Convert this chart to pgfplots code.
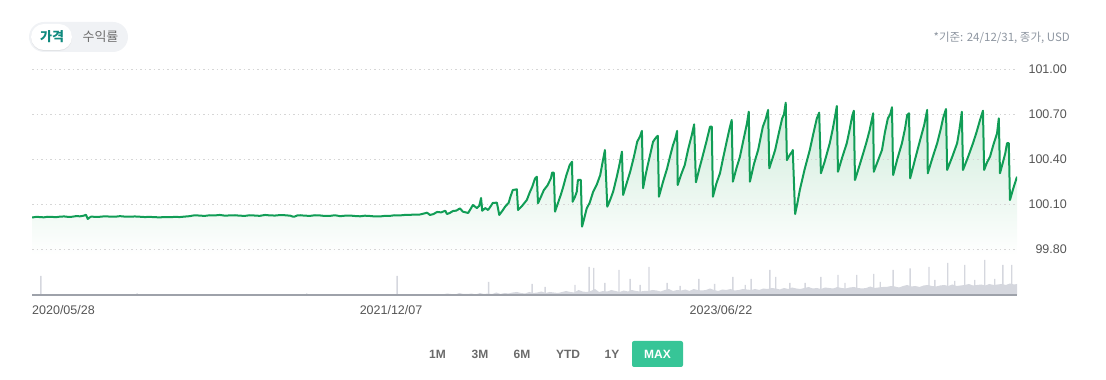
\documentclass[border=0pt]{standalone}
\usepackage{pgfplots}
\usepackage{pgfplotstable}
\pgfplotsset{compat=1.18}
\usepackage{fontspec}
\setmainfont{Liberation Sans}
\newfontfamily\kr{Noto Sans CJK KR}
\usetikzlibrary{shadows}
\definecolor{linegreen}{HTML}{119D56}
\definecolor{fillgreen}{HTML}{CDEBD9}
\definecolor{gridgray}{HTML}{D6D6D6}
\definecolor{ticktext}{HTML}{555555}
\definecolor{volgray}{HTML}{D5D7DE}
\definecolor{basegray}{HTML}{9EA2AA}
\definecolor{notegray}{HTML}{8E96A1}
\definecolor{btntext}{HTML}{6A6A6A}
\definecolor{maxgreen}{HTML}{37C597}
\definecolor{pillbg}{HTML}{F0F2F5}
\definecolor{tabteal}{HTML}{0F8A7E}
\definecolor{pilltext}{HTML}{6E6E6E}

\pgfplotstableread{
day price
0 100.012
7 100.016
14 100.015
20 100.013
27 100.017
34 100.016
41 100.014
48 100.018
55 100.019
62 100.016
68 100.017
75 100.021
82 100.020
88 100.024
92 100.030
95 100.002
98 100.012
101 100.018
108 100.016
116 100.017
124 100.020
133 100.018
141 100.017
150 100.021
158 100.018
167 100.017
175 100.019
184 100.017
192 100.015
201 100.016
210 100.014
218 100.013
226 100.015
235 100.014
243 100.016
252 100.015
260 100.018
269 100.021
274 100.025
279 100.027
287 100.024
295 100.023
303 100.027
312 100.026
320 100.029
329 100.024
337 100.026
346 100.027
354 100.024
363 100.023
371 100.027
380 100.025
388 100.023
397 100.029
405 100.026
414 100.025
422 100.028
431 100.027
440 100.024
445 100.017
448 100.019
452 100.026
457 100.027
465 100.024
474 100.023
482 100.027
490 100.026
499 100.022
508 100.023
516 100.027
525 100.021
533 100.024
542 100.025
550 100.022
559 100.020
567 100.024
576 100.022
584 100.019
593 100.019
601 100.023
610 100.023
618 100.027
627 100.026
635 100.029
644 100.030
652 100.031
661 100.032
665 100.036
673 100.044
678 100.029
684 100.035
690 100.049
697 100.046
704 100.057
707 100.035
712 100.043
717 100.055
723 100.058
729 100.073
734 100.051
743 100.042
747 100.068
751 100.095
758 100.075
762 100.090
765 100.142
767 100.057
772 100.075
777 100.062
781 100.085
785 100.109
792 100.111
796 100.029
801 100.055
806 100.084
812 100.110
815 100.150
819 100.195
826 100.200
828 100.062
835 100.090
843 100.129
848 100.180
852 100.215
857 100.273
860 100.284
862 100.107
867 100.150
872 100.195
878 100.225
884 100.273
886 100.311
889 100.311
891 100.051
897 100.120
901 100.165
905 100.217
910 100.290
916 100.362
920 100.384
921 100.117
925 100.150
928 100.184
930 100.262
935 100.262
937 99.951
941 100.010
945 100.073
950 100.110
956 100.184
962 100.230
968 100.295
972 100.380
976 100.462
980 100.084
985 100.130
990 100.184
996 100.280
1000 100.350
1005 100.451
1007 100.162
1013 100.240
1019 100.317
1025 100.410
1031 100.517
1036 100.555
1039 100.589
1041 100.207
1045 100.290
1049 100.362
1053 100.430
1058 100.517
1062 100.540
1066 100.557
1068 100.151
1075 100.250
1082 100.340
1087 100.420
1092 100.495
1096 100.540
1099 100.589
1100 100.229
1106 100.300
1112 100.362
1118 100.470
1124 100.562
1128 100.633
1131 100.247
1137 100.340
1143 100.429
1149 100.520
1155 100.617
1158 100.617
1160 100.151
1166 100.240
1172 100.307
1178 100.420
1184 100.529
1188 100.600
1192 100.662
1194 100.251
1200 100.340
1206 100.417
1212 100.530
1218 100.640
1221 100.717
1223 100.251
1230 100.370
1237 100.462
1241 100.540
1245 100.617
1250 100.670
1254 100.729
1256 100.340
1261 100.400
1266 100.462
1272 100.570
1278 100.673
1281 100.700
1284 100.777
1286 100.395
1291 100.430
1295 100.451
1296 100.462
1300 100.035
1304 100.110
1308 100.195
1316 100.330
1325 100.462
1331 100.570
1337 100.673
1341 100.711
1344 100.307
1350 100.380
1355 100.450
1359 100.507
1364 100.600
1368 100.684
1371 100.755
1373 100.317
1380 100.410
1388 100.507
1393 100.600
1397 100.684
1400 100.724
1402 100.262
1409 100.350
1416 100.440
1422 100.520
1427 100.595
1433 100.707
1434 100.317
1441 100.390
1448 100.462
1453 100.580
1458 100.673
1462 100.700
1465 100.747
1467 100.295
1474 100.400
1482 100.507
1487 100.600
1491 100.695
1494 100.707
1496 100.273
1505 100.410
1513 100.529
1520 100.630
1525 100.729
1526 100.307
1534 100.410
1542 100.507
1548 100.600
1552 100.673
1557 100.735
1559 100.329
1568 100.420
1576 100.507
1580 100.600
1584 100.717
1586 100.329
1595 100.420
1603 100.507
1609 100.580
1615 100.662
1620 100.724
1622 100.329
1627 100.380
1632 100.417
1638 100.500
1644 100.573
1647 100.673
1649 100.307
1654 100.380
1658 100.440
1661 100.507
1664 100.507
1666 100.129
1672 100.210
1678 100.284
}\pricetable

\pgfplotstableread{
day vol
693 1
700 0.5
707 1.5
714 1
721 0.5
728 2
735 1
742 1
749 1.5
756 0.5
763 2
770 1
777 1.5
784 1
791 2.5
798 1
805 2
812 1.5
819 2.5
826 3
833 2
840 1.5
847 3
854 2
861 2.5
868 3.5
875 2
882 3
889 2.5
896 2
903 3
910 4
917 3
924 2.5
931 5
938 3.5
945 3
952 4
959 6
966 3
973 4
980 3.5
987 5
994 4
1001 3
1008 4.5
1015 3.5
1022 5
1029 4
1036 3.5
1043 4
1050 4
1057 5
1064 4.5
1071 3.5
1078 5
1085 6
1092 4
1099 5
1106 4.5
1113 5.5
1120 4
1127 6
1134 5
1141 4.5
1148 5
1155 6.5
1162 5
1169 4
1176 5.5
1183 5
1190 6
1197 4.5
1204 5
1211 6
1218 5.5
1225 5
1232 6
1239 5
1246 6.5
1253 6
1260 7
1267 6.5
1274 5.5
1281 7
1288 6
1295 7.5
1302 6.5
1309 6
1316 7
1323 8
1330 6.5
1337 7
1344 6
1351 7.5
1358 7
1365 6.5
1372 8
1379 7
1386 6.5
1393 7.5
1400 8
1407 7
1414 6.5
1421 7
1428 8.5
1435 7
1442 7.5
1449 8
1456 8
1463 9
1470 8.5
1477 7.5
1484 9
1491 10
1498 8.5
1505 9
1512 8
1519 9.5
1526 10
1533 9
1540 8.5
1547 9.5
1554 10
1561 9
1568 10.5
1575 9
1582 9.5
1589 10
1596 11
1603 9.5
1610 10
1617 10.5
1624 9.5
1631 11
1638 10
1645 10.5
1652 11
1659 10
1666 11.5
1673 10.5
1678 11
}\voltable

\pgfplotstableread{
day vol
15 19
179 1.5
468 1.5
622 19
778 13
852 11
874 8
925 10
949 28
957 27
976 12
1000 25
1019 16
1036 10
1051 28
1082 12
1104 9
1136 16
1163 11
1194 18
1215 10
1225 16
1257 25
1267 18
1291 12
1317 12
1344 18
1373 20
1385 12
1405 20
1434 21
1445 13
1467 25
1496 26.5
1528 28
1538 15
1560 32
1572 14
1589 30
1606 15
1623 35
1640 16
1654 30
1669 30
}\spiketable

\begin{document}
\begin{tikzpicture}
\path (0,0) rectangle (1106pt,380pt);

% toggle pill
\fill[pillbg, rounded corners=15pt] (29pt,328pt) rectangle (128pt,358pt);
\path[fill=white, rounded corners=13pt, drop shadow={opacity=0.12, shadow xshift=0pt, shadow yshift=-1pt}] (31pt,330pt) rectangle (72pt,356pt);
\node[text=tabteal, font=\kr\bfseries\fontsize{13pt}{15pt}\selectfont] at (52pt,343pt) {가격};
\node[text=pilltext, font=\kr\fontsize{13pt}{15pt}\selectfont] at (100.5pt,343pt) {수익률};
\node[anchor=east, inner sep=0pt, text=notegray, font=\kr\fontsize{11.5pt}{13pt}\selectfont] at (1070pt,342pt) {*기준: 24/12/31, 종가, USD};

% price axis
\begin{axis}[
  at={(32pt,124.7pt)}, anchor=south west,
  scale only axis, width=985pt, height=189pt,
  xmin=0, xmax=1678, ymin=99.76, ymax=101.02,
  set layers=standard,
  axis line style={draw=none},
  xtick=\empty,
  ytick={99.8,100.1,100.4,100.7,101.0},
  yticklabel pos=right,
  major tick length=0pt,
  ymajorgrids,
  grid style={gridgray, line width=1pt, dash pattern=on 1.5pt off 3pt},
  yticklabel style={anchor=east, inner sep=0pt, xshift=50pt, font=\fontsize{12.5pt}{14pt}\selectfont, text=ticktext},
  /pgf/number format/.cd, fixed, fixed zerofill, precision=2, 1000 sep={}, assume math mode=true,
]
\addplot [on layer=axis background, draw=none, top color=fillgreen, bottom color=white] table[x=day, y=price] {\pricetable} \closedcycle;
\addplot [linegreen, line width=2pt, line join=round] table[x=day, y=price] {\pricetable};
\end{axis}

% volume axis
\begin{axis}[
  at={(32pt,85pt)}, anchor=south west,
  scale only axis, width=985pt, height=40pt,
  xmin=0, xmax=1678, ymin=0, ymax=40,
  clip=false,
  axis line style={draw=none},
  ytick=\empty,
  xtick={0,558,1120},
  xticklabels={2020/05/28,2021/12/07,2023/06/22},
  major tick length=0pt,
  xticklabel style={anchor=north west, inner sep=0pt, yshift=-10pt, font=\fontsize{12.5pt}{14pt}\selectfont, text=ticktext},
]
\addplot [draw=none, fill=volgray] table[x=day, y=vol] {\voltable} \closedcycle;
\addplot [ybar, bar width=1.4pt, draw=none, fill=volgray] table[x=day, y=vol] {\spiketable};
\addplot [basegray, line width=2pt] coordinates {(0,0) (1678,0)};
\end{axis}

% range buttons
\fill[maxgreen, rounded corners=2pt] (632pt,13pt) rectangle (683pt,39pt);
\node[text=btntext, font=\bfseries\fontsize{12pt}{14pt}\selectfont] at (437.5pt,26pt) {1M};
\node[text=btntext, font=\bfseries\fontsize{12pt}{14pt}\selectfont] at (480pt,26pt) {3M};
\node[text=btntext, font=\bfseries\fontsize{12pt}{14pt}\selectfont] at (522pt,26pt) {6M};
\node[text=btntext, font=\bfseries\fontsize{12pt}{14pt}\selectfont] at (568pt,26pt) {YTD};
\node[text=btntext, font=\bfseries\fontsize{12pt}{14pt}\selectfont] at (612pt,26pt) {1Y};
\node[text=white, font=\bfseries\fontsize{12pt}{14pt}\selectfont] at (657.5pt,26pt) {MAX};
\end{tikzpicture}
\end{document}
